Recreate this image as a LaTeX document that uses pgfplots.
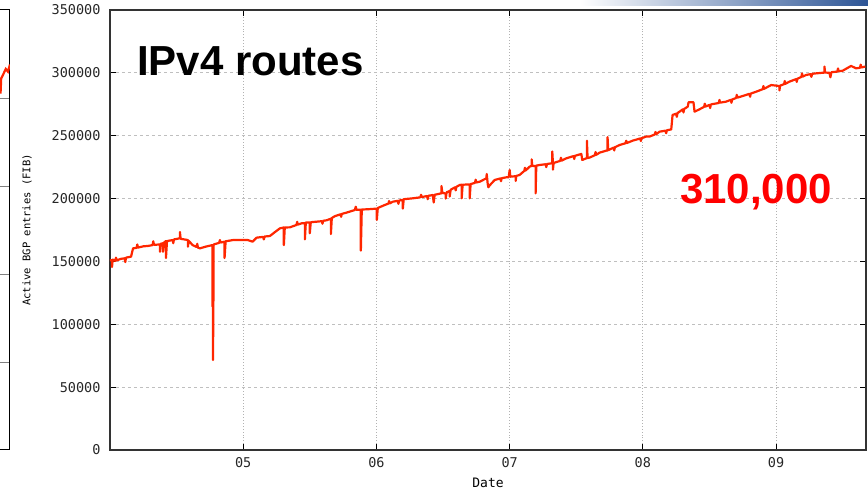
\documentclass[border=0pt]{standalone}
\usepackage{pgfplots}
\pgfplotsset{compat=1.18}
\usepackage{fontspec}
\setmainfont{Liberation Sans}
\newfontfamily\monofont{DejaVu Sans Mono}
\definecolor{bgpred}{RGB}{255,38,0}
\definecolor{barblue}{RGB}{45,85,150}

\pgfplotstableread{
x y
4.000 151000
4.015 151000
4.015 145600
4.020 151500
4.040 150500
4.045 153000
4.050 150800
4.080 152000
4.110 152500
4.115 149500
4.120 153000
4.158 153800
4.173 160400
4.200 160800
4.205 163500
4.210 161000
4.250 162000
4.285 162300
4.320 163000
4.325 166000
4.330 163200
4.375 163500
4.375 157700
4.380 164000
4.398 164500
4.398 157700
4.405 165000
4.420 166200
4.420 152700
4.428 166200
4.470 167000
4.475 164500
4.480 167500
4.525 168400
4.525 173400
4.530 168000
4.585 167000
4.585 161700
4.590 166500
4.620 163000
4.650 161500
4.655 164000
4.660 161000
4.675 160400
4.720 161800
4.748 162500
4.770 163000
4.770 114000
4.773 114000
4.773 71600
4.776 114000
4.778 163500
4.820 164800
4.825 167000
4.830 165000
4.860 165700
4.860 152700
4.868 166000
4.923 167000
5.035 167000
5.070 165700
5.100 168900
5.150 169500
5.155 167500
5.160 169800
5.200 170200
5.240 173500
5.275 176300
5.305 177000
5.305 163000
5.312 177000
5.350 177100
5.400 179000
5.405 181500
5.410 179300
5.438 180300
5.463 180500
5.463 167600
5.470 181000
5.500 181000
5.500 172400
5.507 181200
5.550 181600
5.590 182000
5.595 180000
5.600 182300
5.625 182700
5.658 184000
5.658 171800
5.665 184500
5.688 186000
5.730 187500
5.735 185500
5.740 187800
5.775 188800
5.838 190900
5.845 193500
5.850 191000
5.883 191200
5.883 158600
5.890 191300
5.937 191500
6.003 192000
6.003 183000
6.010 192500
6.063 194900
6.090 196000
6.095 198000
6.100 196200
6.123 197500
6.160 198200
6.165 195800
6.170 198400
6.198 199000
6.198 192000
6.205 199500
6.273 200200
6.330 201000
6.335 203000
6.340 201200
6.380 202000
6.385 199500
6.390 202200
6.423 202800
6.430 196900
6.437 203000
6.488 204200
6.488 210000
6.495 204500
6.520 204000
6.520 200000
6.527 205000
6.550 206000
6.550 201600
6.557 207000
6.590 209000
6.595 206500
6.600 209300
6.625 210800
6.640 211000
6.640 200200
6.647 211000
6.700 211300
6.700 200200
6.707 211500
6.740 212500
6.745 215000
6.750 212800
6.775 213400
6.825 216100
6.828 219500
6.835 212000
6.840 209000
6.850 210500
6.888 214800
6.930 216000
6.935 213800
6.940 216200
6.975 216900
6.993 217000
7.000 222700
7.005 217400
7.045 217800
7.045 214000
7.050 218000
7.075 218800
7.110 222000
7.115 224500
7.120 222300
7.150 225400
7.165 226000
7.165 231200
7.170 226000
7.188 225900
7.195 225900
7.195 204200
7.200 226200
7.225 226700
7.270 227300
7.275 225000
7.280 227500
7.313 228000
7.320 228000
7.320 237500
7.325 228000
7.325 223000
7.330 228300
7.380 230000
7.385 232500
7.390 230200
7.425 232000
7.480 233800
7.485 231500
7.490 234000
7.538 235500
7.545 230700
7.580 232200
7.580 246000
7.585 232200
7.600 232600
7.640 234500
7.645 237000
7.650 234800
7.675 236500
7.725 238100
7.735 238200
7.735 248900
7.740 238500
7.780 240500
7.785 238300
7.790 240800
7.825 242600
7.870 244000
7.875 246000
7.880 244200
7.925 246100
7.980 247800
7.985 245800
7.990 248000
8.025 249300
8.050 249300
8.090 251000
8.095 253000
8.100 251200
8.125 253200
8.170 254000
8.175 252000
8.180 254300
8.213 255000
8.223 266500
8.250 267500
8.255 265000
8.260 268000
8.275 269100
8.300 271000
8.305 268500
8.310 271300
8.337 273100
8.343 276600
8.380 276600
8.388 269100
8.425 271000
8.460 273000
8.465 275500
8.470 273200
8.500 274500
8.505 272000
8.510 274800
8.525 275200
8.570 276000
8.575 278500
8.580 276300
8.625 277100
8.660 278500
8.665 276200
8.670 278800
8.700 280000
8.705 282500
8.710 280300
8.750 281600
8.800 283300
8.805 281000
8.810 283500
8.850 285000
8.900 287000
8.905 289500
8.910 287300
8.963 290300
9.025 289500
9.025 286000
9.030 289800
9.060 291000
9.065 293500
9.070 291300
9.100 293000
9.150 295000
9.155 292800
9.160 295300
9.190 296800
9.195 299500
9.200 297000
9.225 298300
9.260 299000
9.265 296800
9.270 299200
9.300 299600
9.363 300200
9.363 305000
9.368 300200
9.400 300100
9.408 296500
9.415 300500
9.460 301000
9.465 303500
9.470 301200
9.500 301700
9.563 305500
9.600 303600
9.630 304000
9.635 306500
9.640 304300
9.670 305000
}\routes

\begin{document}
\begin{tikzpicture}
% gradient strip of the slide, top right
\shade[left color=white, right color=barblue] (580pt,488pt) rectangle (868pt,494pt);

% right edge of the neighbouring chart
\begin{axis}[
  at={(-200pt,44pt)}, anchor=south west,
  scale only axis, width=210pt, height=440pt,
  xmin=0, xmax=1, ymin=0, ymax=5,
  xtick=\empty, ytick={1,2,3,4}, yticklabels={},
  tick align=inside, major tick length=12pt,
  axis line style={line width=1pt},
  clip=true]
\addplot[bgpred, line width=2.2pt] coordinates {(0.940,4.25) (0.950,4.22) (0.955,4.05) (0.958,4.22) (0.970,4.28) (0.980,4.33) (0.990,4.30) (1.0,4.38)};
\end{axis}

\begin{axis}[
  at={(110pt,44pt)}, anchor=south west,
  scale only axis, width=756pt, height=440pt,
  xmin=4, xmax=9.675, ymin=0, ymax=350000,
  xtick={5,6,7,8,9}, xticklabels={05,06,07,08,09},
  ytick={0,50000,100000,150000,200000,250000,300000,350000},
  yticklabels={0,50000,100000,150000,200000,250000,300000,350000},
  scaled y ticks=false,
  tick label style={font=\monofont\fontsize{13.5}{14}\selectfont, text=black!85},
  xticklabel style={yshift=-4pt},
  yticklabel style={xshift=-6pt},
  xtick pos=both, ytick pos=both,
  tick align=inside, major tick length=6pt,
  tick style={black, line width=1pt},
  axis line style={line width=1.2pt, black!80},
  grid=major,
  x grid style={gray!60, line width=0.9pt, dotted},
  y grid style={gray!50, line width=0.9pt, dash pattern=on 3pt off 3pt},
  xlabel={Date},
  ylabel={Active BGP entries (FIB)},
  xlabel style={font=\monofont\fontsize{13}{13}\selectfont, at={(axis description cs:0.5,-0.075)}, anchor=center},
  ylabel style={font=\monofont\fontsize{10.5}{11}\selectfont, at={(axis description cs:-0.1098,0.5)}, anchor=center},
  clip=true]
\addplot[bgpred, line width=2.2pt, line join=round] table[x=x, y=y] {\routes};
\node[anchor=base west, font=\bfseries\fontsize{42}{42}\selectfont, inner sep=0pt]
  at (rel axis cs:0.0357,0.852) {IPv4 routes};
\node[anchor=base west, font=\bfseries\fontsize{42}{42}\selectfont, text=red, inner sep=0pt]
  at (rel axis cs:0.754,0.561) {310,000};
\end{axis}

\pgfresetboundingbox
\path[use as bounding box] (0,0) rectangle (868pt,494pt);
\end{tikzpicture}
\end{document}
